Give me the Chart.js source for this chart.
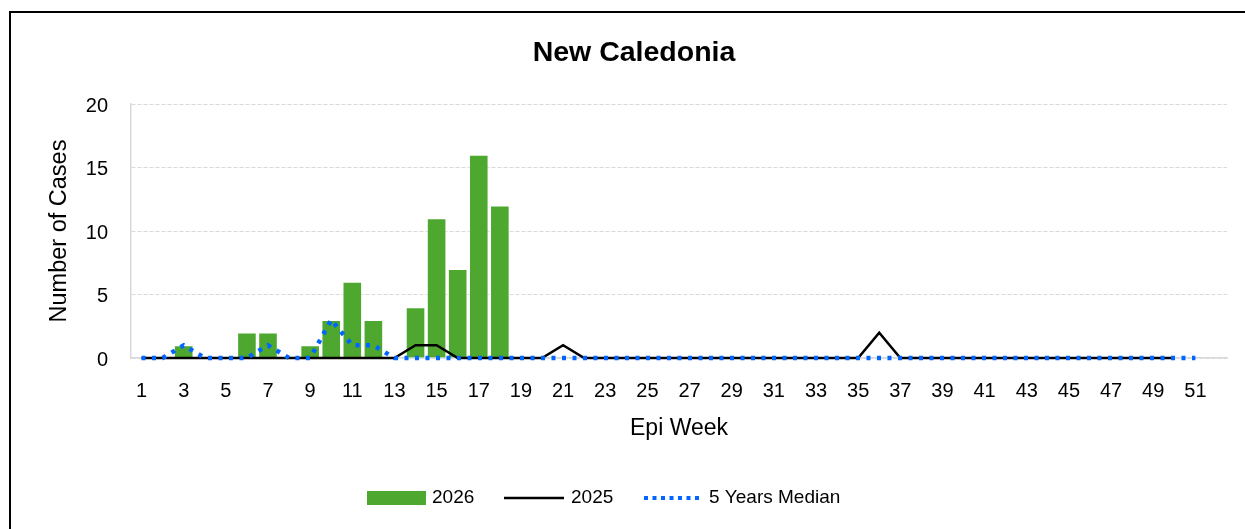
<!DOCTYPE html>
<html>
<head>
<meta charset="utf-8">
<script src="https://cdn.jsdelivr.net/npm/chart.js@4"></script>
<style>
  html, body { margin: 0; padding: 0; background: #fff; overflow: hidden; }
  #wrap { position: relative; width: 1245px; height: 529px; }
  #frame { position: absolute; left: 9px; top: 11px; width: 2000px; height: 2000px; border: 2px solid #000; }
  canvas { position: absolute; left: 0; top: 0; }
</style>
</head>
<body>
<div id="wrap">
  <div id="frame"></div>
  <canvas id="chart" width="1245" height="529"></canvas>
</div>
<script>
// Epi weeks 1..52
const weeks = Array.from({ length: 52 }, (_, i) => String(i + 1));

// 2026 cases (weeks 1-18 reported so far)
const cases2026 = [0, 0, 1, 0, 0, 2, 2, 0, 1, 3, 6, 3, 0, 4, 11, 7, 16, 12];

// 2025 cases (weeks 1-50)
const cases2025 = [0, 0, 0, 0, 0, 0, 0, 0, 0, 0, 0, 0, 0, 1, 1, 0, 0, 0, 0, 0,
                   1, 0, 0, 0, 0, 0, 0, 0, 0, 0, 0, 0, 0, 0, 0, 2, 0, 0, 0, 0,
                   0, 0, 0, 0, 0, 0, 0, 0, 0, 0];

// 5 years median (weeks 1-51)
const median5y = [0, 0, 1, 0, 0, 0, 1, 0, 0, 3, 1, 1, 0, 0, 0, 0, 0, 0, 0, 0,
                  0, 0, 0, 0, 0, 0, 0, 0, 0, 0, 0, 0, 0, 0, 0, 0, 0, 0, 0, 0,
                  0, 0, 0, 0, 0, 0, 0, 0, 0, 0, 0];

const yTicks = [0, 5, 10, 15, 20];

const FONT = "'Liberation Sans', Arial, sans-serif";
const GREEN = '#4ea72e';
const BLUE = '#0066ff';

// draws title and legend the way the office chart lays them out
const decor = {
    id: 'decor',
    afterDraw(chart) {
        const ctx = chart.ctx;
        ctx.save();
        ctx.fillStyle = '#000';
        ctx.font = 'bold 28.5px ' + FONT;
        ctx.textAlign = 'center';
        ctx.textBaseline = 'middle';
        ctx.fillText('New Caledonia', 634, 53);

        const ly = 498;
        ctx.font = '19px ' + FONT;
        ctx.textAlign = 'left';

        ctx.fillStyle = GREEN;
        ctx.fillRect(367, ly - 7, 59, 14);
        ctx.fillStyle = '#000';
        ctx.fillText('2026', 432, ly);

        ctx.strokeStyle = '#000';
        ctx.lineWidth = 2.5;
        ctx.beginPath();
        ctx.moveTo(504, ly);
        ctx.lineTo(564, ly);
        ctx.stroke();
        ctx.fillText('2025', 571, ly);

        ctx.strokeStyle = BLUE;
        ctx.lineWidth = 4;
        ctx.setLineDash([4, 4.5]);
        ctx.beginPath();
        ctx.moveTo(644, ly);
        ctx.lineTo(702, ly);
        ctx.stroke();
        ctx.setLineDash([]);
        ctx.fillText('5 Years Median', 709, ly);
        ctx.restore();
    }
};

new Chart(document.getElementById('chart'), {
    data: {
        labels: weeks,
        datasets: [
            {
                type: 'bar',
                label: '2026',
                data: cases2026,
                backgroundColor: GREEN,
                borderColor: 'rgba(255,255,255,0.45)',
                borderWidth: 1,
                categoryPercentage: 1,
                barPercentage: 0.93,
                order: 3
            },
            {
                type: 'line',
                label: '2025',
                data: cases2025,
                borderColor: '#000',
                borderWidth: 2.5,
                pointRadius: 0,
                tension: 0,
                fill: false,
                clip: false,
                order: 2
            },
            {
                type: 'line',
                label: '5 Years Median',
                data: median5y,
                borderColor: BLUE,
                borderWidth: 4.5,
                borderDash: [4, 6.5],
                borderCapStyle: 'butt',
                pointRadius: 0,
                tension: 0,
                fill: false,
                clip: false,
                order: 1
            }
        ]
    },
    options: {
        responsive: false,
        animation: false,
        layout: { padding: { top: 104, right: 18, left: 0, bottom: 0 } },
        plugins: {
            legend: { display: false },
            title: { display: false },
            tooltip: { enabled: false }
        },
        scales: {
            x: {
                grid: { display: false },
                border: { display: true, color: '#d9d9d9', width: 1.5 },
                ticks: {
                    autoSkip: false,
                    maxRotation: 0,
                    color: '#000',
                    padding: 13,
                    font: { family: FONT, size: 20 },
                    callback: function(value, index) {
                        return index % 2 === 0 ? weeks[index] : '';
                    }
                },
                title: {
                    display: true,
                    text: 'Epi Week',
                    color: '#000',
                    font: { family: FONT, size: 23 },
                    padding: { top: 0, bottom: 87 }
                },
                afterFit: s => { s.height = 171; }
            },
            y: {
                min: 0,
                max: 20,
                afterBuildTicks: s => { s.ticks = yTicks.map(v => ({ value: v })); },
                grid: {
                    color: '#d9d9d9',
                    lineWidth: 1,
                    drawTicks: false
                },
                border: { display: true, color: '#d9d9d9', width: 1.5, dash: [4, 2] },
                ticks: {
                    color: '#000',
                    padding: 23,
                    labelOffset: 2,
                    font: { family: FONT, size: 20 }
                },
                title: {
                    display: true,
                    text: 'Number of Cases',
                    color: '#000',
                    font: { family: FONT, size: 23.5 },
                    padding: { top: 45, bottom: 0 }
                },
                afterFit: s => { s.width = 131; }
            }
        }
    },
    plugins: [decor]
});
</script>
</body>
</html>
